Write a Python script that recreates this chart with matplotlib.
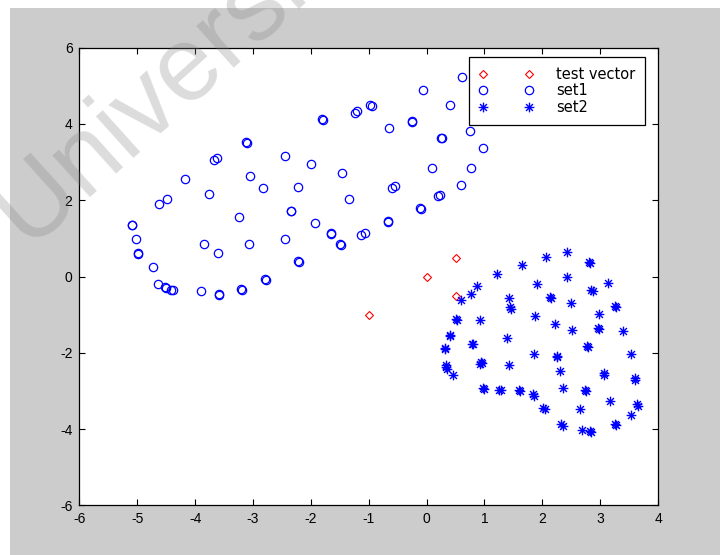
import numpy as np
import matplotlib
matplotlib.use('Agg')
import matplotlib.pyplot as plt
from matplotlib.path import Path
from matplotlib.patches import Rectangle

plt.rcParams['font.family'] = ['Liberation Sans', 'DejaVu Sans']
plt.rcParams['axes.unicode_minus'] = False

# test vectors
test_x = [0.5, 0.0, 0.5, -1.0]
test_y = [0.5, 0.0, -0.5, -1.0]

# set1 (ring shaped class)
set1_x = [0.61, -0.07, 0.41, -0.97, -0.95, -1.24, -1.21, -1.80, -1.79, -0.26, -0.26,
          -0.65, 0.25, 0.26, 0.75, 0.98, -1.99, -1.46, 0.10, 0.77, 0.59, -0.60, -0.55,
          -3.12, -3.11, -3.68, -3.62, -2.45, -4.17, -3.06, -2.83, -2.22, -4.49, -4.63,
          -3.76, -2.35, -2.34, -1.93, -3.25, -5.10, -5.09, -5.03, -4.99, -4.98, -4.73,
          -3.85, -3.60, -3.07, -2.45, -2.22, -2.21, -2.79, -2.78, -3.21, -3.19, -3.59,
          -3.58, -3.90, -4.64, -4.53, -4.51, -4.41, -4.39, -1.34, 0.20, 0.24, -0.11,
          -0.10, -0.67, -0.66, -1.66, -1.65, -1.14, -1.07, -1.50, -1.48]
set1_y = [5.23, 4.88, 4.49, 4.49, 4.47, 4.28, 4.33, 4.13, 4.11, 4.08, 4.04,
          3.89, 3.64, 3.62, 3.82, 3.37, 2.95, 2.71, 2.85, 2.85, 2.39, 2.33, 2.37,
          3.52, 3.50, 3.06, 3.11, 3.15, 2.57, 2.63, 2.32, 2.35, 2.04, 1.90,
          2.17, 1.73, 1.71, 1.41, 1.55, 1.36, 1.34, 0.98, 0.61, 0.59, 0.25,
          0.85, 0.61, 0.85, 0.98, 0.40, 0.38, -0.06, -0.08, -0.33, -0.34, -0.45,
          -0.47, -0.38, -0.19, -0.27, -0.29, -0.34, -0.36, 2.04, 2.10, 2.15, 1.80,
          1.78, 1.45, 1.43, 1.13, 1.11, 1.10, 1.13, 0.85, 0.84]

# set2 (blob shaped class)
set2_x = [2.43, 2.06, 2.81, 2.83, 1.65, 1.21, 0.87, 0.77, 0.59, 2.43, 3.14, 1.90,
          2.85, 2.87, 2.13, 2.15, 1.42, 1.45, 1.46, 2.50, 3.26, 3.27, 2.98, 0.51,
          0.53, 0.93, 1.88, 2.22, 2.52, 2.97, 2.98, 3.40, 0.40, 0.41, 1.39, 0.31,
          0.32, 0.79, 0.81, 1.86, 2.25, 2.26, 2.78, 2.79, 3.54, 0.94, 0.96, 0.93,
          0.33, 0.34, 0.36, 0.45, 1.42, 2.30, 3.06, 3.07, 3.60, 3.61, 0.97, 0.99,
          1.26, 1.28, 1.60, 1.62, 1.84, 1.85, 2.36, 2.74, 2.76, 2.02, 2.04, 2.66,
          3.17, 3.64, 3.66, 3.53, 2.33, 2.36, 2.69, 2.83, 2.85, 3.26, 3.28]
set2_y = [0.64, 0.51, 0.38, 0.36, 0.30, 0.08, -0.24, -0.45, -0.62, -0.01, -0.16, -0.19,
          -0.36, -0.38, -0.53, -0.55, -0.55, -0.80, -0.84, -0.68, -0.78, -0.81, -0.97, -1.12,
          -1.15, -1.14, -1.04, -1.25, -1.41, -1.35, -1.37, -1.42, -1.54, -1.57, -1.62, -1.87,
          -1.89, -1.77, -1.78, -2.02, -2.07, -2.10, -1.82, -1.85, -2.02, -2.23, -2.27, -2.30,
          -2.32, -2.38, -2.41, -2.58, -2.32, -2.47, -2.54, -2.58, -2.65, -2.70, -2.93, -2.95,
          -2.96, -2.98, -2.98, -3.01, -3.09, -3.12, -2.93, -2.98, -3.00, -3.44, -3.47, -3.48,
          -3.26, -3.34, -3.38, -3.63, -3.87, -3.91, -4.01, -4.04, -4.08, -3.87, -3.89]

# asterisk marker: plus and cross drawn as open strokes
ang = np.deg2rad(np.arange(0, 180, 45))
verts, codes = [], []
for a in ang:
    verts += [(np.cos(a), np.sin(a)), (-np.cos(a), -np.sin(a))]
    codes += [Path.MOVETO, Path.LINETO]
asterisk = Path(verts, codes)

fig = plt.figure(figsize=(7.2, 5.55), dpi=100, facecolor='white')
# grey figure area
fig.patches.append(Rectangle((10 / 720, 0), 1, (555 - 8) / 555, transform=fig.transFigure,
                             facecolor='#cccccc', edgecolor='none', zorder=-1))

ax = fig.add_axes([0.1104, 0.0892, 0.8035, 0.8249])
ax.plot(test_x, test_y, 'D', color='red', mfc='none', ms=4.4, mew=0.8, ls='none',
        label='test vector')
ax.plot(set1_x, set1_y, 'o', color='blue', mfc='none', ms=6, mew=0.9, ls='none',
        label='set1')
ax.plot(set2_x, set2_y, ls='none', marker=asterisk, color='blue', mfc='none', ms=7,
        mew=1.0, label='set2')

ax.set_xlim(-6, 4)
ax.set_ylim(-6, 6)
ax.set_xticks(np.arange(-6, 5, 1))
ax.set_yticks(np.arange(-6, 7, 2))
ax.tick_params(direction='in', top=True, right=True, length=4, width=0.8,
               labelsize=10, pad=5)
for s in ax.spines.values():
    s.set_linewidth(0.9)

leg = ax.legend(loc='upper left', bbox_to_anchor=(0.673, 0.980), borderaxespad=0,
                numpoints=2, handlelength=3.75, handletextpad=1.55, borderpad=0.68,
                labelspacing=0.12, prop={'family': 'DejaVu Sans', 'size': 10.5},
                fancybox=False, framealpha=1, edgecolor='black')
leg.get_frame().set_linewidth(0.9)

# watermark
fig.text(27 / 720, 1 - 247 / 555, 'University', fontsize=76, color='#808080', alpha=0.28,
         rotation=42, rotation_mode='anchor', ha='left', va='baseline', zorder=10)

fig.savefig('out.png', dpi=100)
